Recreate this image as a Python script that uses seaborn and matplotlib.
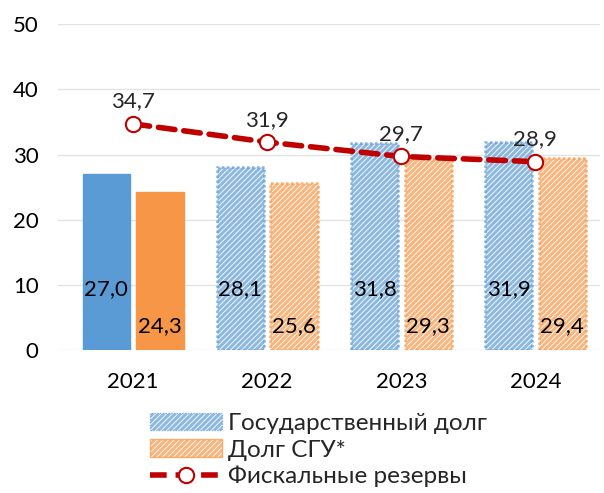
import matplotlib.pyplot as plt
import matplotlib.patches as mpatches
from matplotlib.lines import Line2D
import numpy as np
import pandas as pd
import seaborn as sns

years = ["2021", "2022", "2023", "2024"]
gov_debt = [27.0, 28.1, 31.8, 31.9]
sgu_debt = [24.3, 25.6, 29.3, 29.4]
reserves = [34.7, 31.9, 29.7, 28.9]
series_names = ["Государственный долг", "Долг СГУ*", "Фискальные резервы"]

blue = "#5B9BD5"
orange = "#F79646"
red = "#C00000"


def fmt(v):
    return f"{v:.1f}".replace(".", ",")


sns.set_theme(style="white")
plt.rcParams["font.family"] = ["Lato", "DejaVu Sans"]
plt.rcParams["hatch.linewidth"] = 2.2

df = pd.DataFrame({
    "year": years * 2,
    "value": gov_debt + sgu_debt,
    "series": [series_names[0]] * 4 + [series_names[1]] * 4,
})

fig = plt.figure(figsize=(6.04, 4.93), dpi=100)
ax = fig.add_axes([0.096, 0.29, 0.897, 0.661])

sns.barplot(data=df, x="year", y="value", hue="series", palette=[blue, orange],
            width=0.8, gap=0.12, legend=False, ax=ax, zorder=2)

# first 4 patches = gov debt, next 4 = SGU
for i, p in enumerate(ax.patches[:8]):
    col = blue if i < 4 else orange
    yr = i % 4
    if yr > 0:
        p.set_facecolor("white")
        p.set_edgecolor(col)
        p.set_hatch("//////")
        p.set_linestyle((0, (1, 1)))
        p.set_linewidth(1.8)
        p.set_alpha(0.7)
    else:
        p.set_facecolor(col)
        p.set_edgecolor(col)
    x = p.get_x() + p.get_width() / 2
    val = gov_debt[yr] if i < 4 else sgu_debt[yr]
    ylab = 9.3 if i < 4 else 3.6
    ax.text(x, ylab, fmt(val), ha="center", va="center", fontsize=16, color="black", zorder=5)

sns.pointplot(x=years, y=reserves, color=red, linestyles="--", markers="o", ax=ax)
for ln in ax.lines:
    ln.set_linewidth(4)
    ln.set_dashes((3, 1.6))
    ln.set_dash_capstyle("round")
    ln.set_markersize(11)
    ln.set_markerfacecolor("white")
    ln.set_markeredgecolor(red)
    ln.set_markeredgewidth(1.5)
    ln.set_zorder(4)
for i, v in enumerate(reserves):
    ax.annotate(fmt(v), (i, v), xytext=(0, 9), textcoords="offset points",
                ha="center", va="bottom", fontsize=16, zorder=6)

ax.set_ylim(0, 50)
ax.set_xlim(-0.56, 3.48)
ax.set_yticks(range(0, 51, 10))
ax.grid(axis="y", color="#e3e3e3", linewidth=1)
ax.set_axisbelow(True)
for s in ax.spines.values():
    s.set_visible(False)
ax.set_xlabel("")
ax.set_ylabel("")
ax.tick_params(axis="both", labelsize=16, length=0, colors="black")
ax.tick_params(axis="y", pad=14)
ax.tick_params(axis="x", pad=16)

handles = [
    mpatches.Patch(facecolor="white", edgecolor=blue, hatch="//////", linestyle=(0, (1, 1)), alpha=0.7),
    mpatches.Patch(facecolor="white", edgecolor=orange, hatch="//////", alpha=0.7),
    Line2D([0], [0], color=red, lw=4, ls=(0, (3, 1.6)), marker="o", markersize=11,
           markerfacecolor="white", markeredgecolor=red, markeredgewidth=1.5),
]
fig.legend(handles, series_names, loc="upper left", bbox_to_anchor=(0.248, 0.162),
           frameon=False, fontsize=17.5, handlelength=2.96, handleheight=0.7,
           handletextpad=0.25, labelspacing=0.22, borderaxespad=0, borderpad=0)

fig.savefig("out.png", dpi=100)
